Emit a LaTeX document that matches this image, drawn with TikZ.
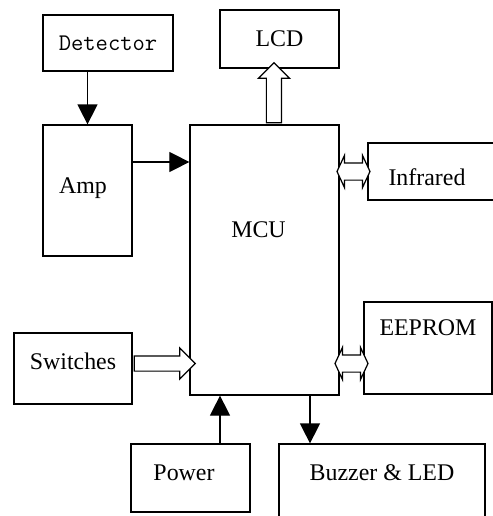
\documentclass[tikz,border=0pt]{standalone}
\usepackage{fontspec}
\setmainfont{Liberation Serif}
\usetikzlibrary{arrows.meta,shapes.arrows}

\begin{document}
\begin{tikzpicture}[line width=0.7pt, every node/.style={font=\fontsize{13.6}{16}\selectfont},
  box/.style={draw,inner sep=0pt},
  arr/.style={-{Triangle[length=0.4cm,width=0.4cm]}},
  sarrow/.style={draw,fill=white,single arrow,inner xsep=0pt,inner ysep=0.14cm,
    single arrow head extend=0.16cm,single arrow tip angle=90,sloped,allow upside down},
  darrow/.style={draw,fill=white,double arrow,inner xsep=0pt,inner ysep=0.16cm,
    double arrow head extend=0.15cm,double arrow tip angle=130,sloped,allow upside down,
    minimum height=0.66cm}]
\useasboundingbox (0,0) rectangle (9.86,10.32);
\node[box,minimum width=2.6cm,minimum height=1.12cm] (det) at (2.16,9.46) {\ttfamily Detector};
\node[box,minimum width=1.78cm,minimum height=2.62cm,
  label={[xshift=-0.09cm,yshift=0.05cm]center:Amp}] (amp) at (1.75,6.51) {};
\node[box,minimum width=2.98cm,minimum height=5.4cm,
  label={[xshift=-0.12cm,yshift=0.6cm]center:MCU}] (mcu) at (5.29,5.12) {};
\node[box,minimum width=2.38cm,minimum height=1.16cm] (lcd) at (5.59,9.54) {LCD};
\node[box,minimum width=3.04cm,minimum height=1.14cm,
  label={[xshift=-0.34cm,yshift=-0.11cm]center:Infrared}] (ir) at (8.88,6.89) {};
\node[box,minimum width=2.56cm,minimum height=1.84cm,
  label={[yshift=0.4cm]center:EEPROM}] (eep) at (8.56,3.36) {};
\node[box,minimum width=2.36cm,minimum height=1.42cm,
  label={[yshift=0.15cm]center:Switches}] (sw) at (1.46,2.95) {};
\node[box,minimum width=2.38cm,minimum height=1.36cm,
  label={[xshift=-0.13cm,yshift=0.1cm]center:Power}] (pwr) at (3.81,0.76) {};
\node[box,minimum width=4.12cm,minimum height=1.92cm,
  label={[yshift=0.38cm]center:Buzzer \& LED}] (buz) at (7.64,0.48) {};
% plain signal lines
\draw[arr] (amp.north |- det.south) -- (amp.north);
\draw[arr] ([yshift=0.57cm]amp.east) -- ([yshift=0.57cm]amp.east -| mcu.west);
\draw[arr] ([xshift=0.91cm]mcu.south) -- ([xshift=0.91cm]mcu.south |- buz.north);
\draw[arr] ([xshift=0.59cm]pwr.north) -- ([xshift=0.59cm]pwr.north |- mcu.south);
% bus arrows
\path ([xshift=-0.11cm]lcd.south |- mcu.north) -- ([xshift=-0.11cm]lcd.south)
  node[sarrow,midway,minimum height=1.2cm] (lcdbus) {};
\path ([yshift=0.1cm]sw.east) -- ([yshift=0.1cm]sw.east -| mcu.west)
  node[sarrow,midway,minimum height=1.22cm] (swbus) {};
\path (mcu.east |- ir.west) -- (ir.west) node[darrow,midway] (irbus) {};
\path ([yshift=-0.31cm]eep.west -| mcu.east) -- ([yshift=-0.31cm]eep.west)
  node[darrow,midway] (eepbus) {};
\end{tikzpicture}
\end{document}
